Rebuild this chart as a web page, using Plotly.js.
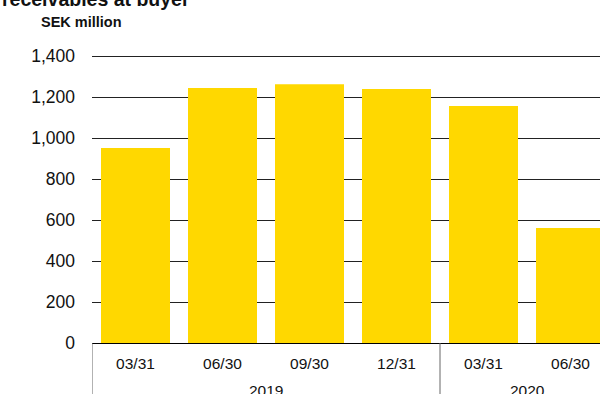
<!DOCTYPE html>
<html><head><meta charset="utf-8">
<script src="https://cdn.plot.ly/plotly-3.0.1.min.js"></script>
<style>html,body{margin:0;padding:0;overflow:hidden;background:#fff;width:600px;height:394px}</style>
</head><body>
<div id="chart" style="width:620px;height:394px"></div>
<script>
const years = ["2019","2019","2019","2019","2020","2020"];
const dates = ["03/31","06/30","09/30","12/31","03/31","06/30"];
const values = [951, 1244, 1263, 1239, 1156, 561];
const yTicks = [0,200,400,600,800,1000,1200,1400];
const yTickText = ["0","200","400","600","800","1,000","1,200","1,400"];

const idx = dates.map((_, i) => i);
const plotH = 289;
// group years
const groups = [];
years.forEach((y, i) => {
  const g = groups.find(g => g.year === y);
  if (g) g.last = i; else groups.push({year: y, first: i, last: i});
});
const annotations = groups.map(g => ({
  text: g.year, xref: "x", yref: "paper", x: (g.first + g.last) / 2, y: -48 / plotH,
  xanchor: "center", yanchor: "middle", showarrow: false, font: {size: 15.5}
}));
const shapes = groups.map(g => ({
  type: "line", xref: "x", yref: "paper", x0: g.first - 0.5, x1: g.first - 0.5, y0: 0, y1: -60 / plotH,
  line: {color: "#666", width: 1}
}));
annotations.push(
  {text: "<b>receivables at buyer</b>", xref: "paper", yref: "paper", x: -92/522, y: 1 + 55/plotH,
   xanchor: "left", yanchor: "middle", showarrow: false, font: {size: 19.5}},
  {text: "<b>SEK million</b>", xref: "paper", yref: "paper", x: -53/522, y: 1 + 32/plotH,
   xanchor: "left", yanchor: "middle", showarrow: false, font: {size: 14.5}}
);

const trace = {
  type: "bar",
  x: idx,
  y: values,
  marker: {color: "#FFD800"},
  hoverinfo: "none"
};
const layout = {
  width: 620, height: 394,
  margin: {l: 92, r: 6, t: 54, b: 51},
  paper_bgcolor: "#fff", plot_bgcolor: "#fff",
  bargap: 0.207,
  showlegend: false,
  font: {family: "Liberation Sans, Arial, sans-serif", color: "#111", size: 16},
  xaxis: {
    range: [-0.5, idx.length - 0.5],
    tickvals: idx, ticktext: dates,
    showline: true, linecolor: "#000", linewidth: 1,
    ticks: "", ticklabelstandoff: 6, tickfont: {size: 15.5},
    showgrid: false, zeroline: false
  },
  yaxis: {
    range: [0, 1410],
    tickvals: yTicks, ticktext: yTickText,
    showgrid: true, gridcolor: "#222", gridwidth: 1,
    zeroline: false, showline: false,
    ticks: "", ticklabelstandoff: 16,
    tickfont: {size: 17.5}
  },
  annotations: annotations,
  shapes: shapes
};
Plotly.newPlot("chart", [trace], layout, {displayModeBar: false, staticPlot: true});
</script>
</body></html>
